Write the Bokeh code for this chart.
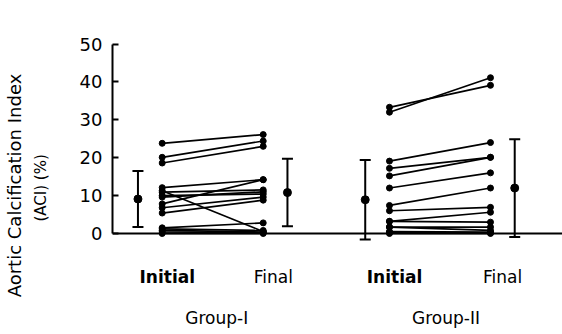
from bokeh.plotting import figure
from bokeh.models import ColumnDataSource, Range1d, LinearAxis, FixedTicker, Span, Whisker, TeeHead
from bokeh.core.properties import value
from bokeh.embed import file_html
from bokeh.resources import INLINE

# ---------------- data ----------------
phases = ["Initial", "Final"]
groups = ["Group-I", "Group-II"]

g1_initial = [23.8, 20.1, 18.6, 12.1, 11.3, 10.9, 10.0, 9.6, 7.8, 6.8, 5.4, 1.5, 1.2, 0.8, 0.4, 0.0]
g1_final   = [26.1, 24.4, 23.0, 14.2, 0.5, 11.5, 10.4, 11.0, 14.2, 9.6, 8.8, 2.8, 0.8, 0.4, 0.2, 0.0]

g2_initial = [33.3, 32.0, 19.1, 17.2, 15.2, 12.0, 7.4, 6.0, 3.2, 3.2, 1.7, 1.7, 0.5, 0.3, 0.0]
g2_final   = [39.1, 41.1, 24.0, 20.1, 20.1, 16.0, 12.0, 6.9, 5.6, 3.0, 1.7, 0.8, 0.4, 0.2, 0.0]

g1_mean = [9.1, 10.8]
g1_sd = [7.4, 8.9]
g2_mean = [8.9, 12.0]
g2_sd = [10.5, 12.9]

y_ticks = [0, 10, 20, 30, 40, 50]

# ---------------- layout constants ----------------
X_INIT = [1.0, 3.25]
X_FINAL = [2.0, 4.25]
ERR_OFF = 0.24
FONT = "DejaVu Sans"

p = figure(width=562, height=334, x_range=Range1d(0.508, 4.963), y_range=Range1d(-26.65, 51.98),
           min_border_left=112, min_border_right=0, min_border_top=36, min_border_bottom=0,
           x_axis_location=None, output_backend="svg", toolbar_location=None,
           outline_line_color=None, background_fill_color="white")
p.grid.grid_line_color = None

ya = p.yaxis[0]
ya.ticker = FixedTicker(ticks=y_ticks)
ya.bounds = (0, 50)
ya.major_tick_in = 6
ya.major_tick_out = 0
ya.minor_tick_line_color = None
ya.axis_line_width = 2
ya.major_tick_line_width = 2
ya.axis_line_color = "black"
ya.major_tick_line_color = "black"
ya.major_label_text_font = FONT
ya.major_label_text_font_size = "18px"
ya.major_label_text_color = "black"
ya.major_label_standoff = 10

def label_axis(text, size, standoff, bounds):
    ax = LinearAxis(axis_label=text, bounds=bounds, ticker=FixedTicker(ticks=[]),
                    axis_line_color=None, major_tick_line_color=None, minor_tick_line_color=None,
                    major_label_text_font_size="0px", axis_label_standoff=standoff,
                    axis_label_text_font=FONT, axis_label_text_font_size=size,
                    axis_label_text_font_style="normal", axis_label_text_color="black")
    p.add_layout(ax, "left")

label_axis("(ACI)  (%)", "15px", 27, (-19.8, 52.0))
label_axis("Aortic Calcification Index", "18px", 4, (-19.8, 52.0))

# x axis line at zero
p.add_layout(Span(location=0, dimension="width", line_color="black", line_width=2))

# paired lines and points
for gi, (ini, fin) in enumerate([(g1_initial, g1_final), (g2_initial, g2_final)]):
    src = ColumnDataSource(dict(x0=[X_INIT[gi]] * len(ini), y0=ini,
                                x1=[X_FINAL[gi]] * len(fin), y1=fin))
    p.segment(x0="x0", y0="y0", x1="x1", y1="y1", source=src, line_color="black", line_width=1.7)
    p.scatter(x="x0", y="y0", source=src, size=6, color="black")
    p.scatter(x="x1", y="y1", source=src, size=6, color="black")

# mean +/- SD
ex, em, eu, el = [], [], [], []
for gi, (means, sds) in enumerate([(g1_mean, g1_sd), (g2_mean, g2_sd)]):
    for k, (m, s) in enumerate(zip(means, sds)):
        ex.append(X_INIT[gi] - ERR_OFF if k == 0 else X_FINAL[gi] + ERR_OFF)
        em.append(m)
        eu.append(m + s)
        el.append(m - s)
esrc = ColumnDataSource(dict(x=ex, m=em, upper=eu, lower=el))
p.add_layout(Whisker(source=esrc, base="x", upper="upper", lower="lower", dimension="height",
                     line_color="black", line_width=2,
                     upper_head=TeeHead(size=11, line_width=2, line_color="black"),
                     lower_head=TeeHead(size=11, line_width=2, line_color="black")))
p.scatter(x="x", y="m", source=esrc, size=8, color="black")

# category labels
p.text(x=[X_INIT[0] + 0.05, X_INIT[1] + 0.05], y=[-11.6, -11.6], text=[phases[0]] * 2,
       text_font=value(FONT), text_font_size=value("17px"), text_font_style="bold",
       text_align="center", text_baseline="middle", text_color="black")
p.text(x=[X_FINAL[0] + 0.1, X_FINAL[1] + 0.12], y=[-11.6, -11.6], text=[phases[1]] * 2,
       text_font=value(FONT), text_font_size=value("17px"),
       text_align="center", text_baseline="middle", text_color="black")
p.text(x=[(X_INIT[0] + X_FINAL[0]) / 2 + 0.04, (X_INIT[1] + X_FINAL[1]) / 2 + 0.06], y=[-22.4, -22.4],
       text=groups, text_font=value(FONT), text_font_size=value("17px"),
       text_align="center", text_baseline="middle", text_color="black")

open("out.html", "w").write(file_html(p, INLINE))
